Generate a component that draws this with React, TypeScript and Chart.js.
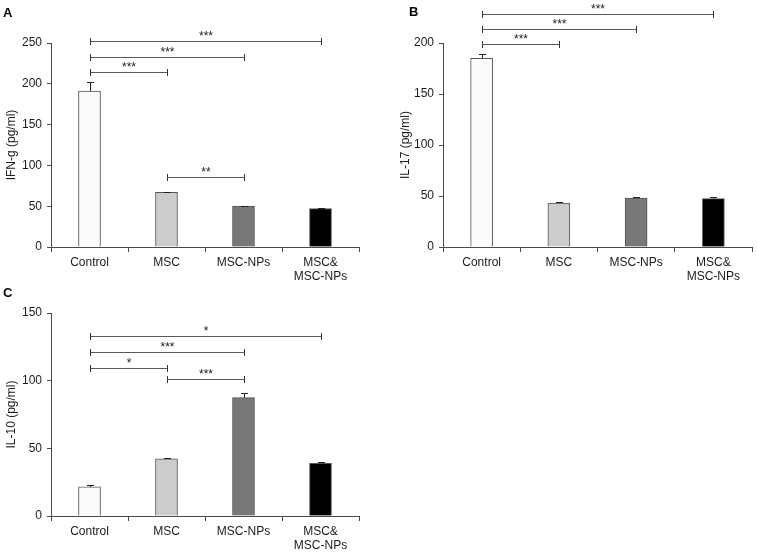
import React, { useEffect, useRef } from 'react';
import { Chart, registerables } from 'chart.js';

Chart.register(...registerables);

const categories: (string | string[])[] = ['Control', 'MSC', 'MSC-NPs', ['MSC&', 'MSC-NPs']];
const barColors = ['#fbfbfb', '#cccccc', '#787878', '#000000'];

const ifnValues = [191, 67, 50, 47];
const ifnErrors = [11, 1, 0.4, 0.8];
const il17Values = [185, 43, 48, 47.5];
const il17Errors = [4, 1.5, 1.5, 1.2];
const il10Values = [21.5, 42.3, 87.5, 39];
const il10Errors = [1.6, 0.5, 3.5, 0.6];

// [from index, to index, value level, label]
const ifnBrackets: [number, number, number, string][] = [
  [0, 3, 252, '***'],
  [0, 2, 233, '***'],
  [0, 1, 215, '***'],
  [1, 2, 86, '**'],
];
const il17Brackets: [number, number, number, string][] = [
  [0, 3, 228, '***'],
  [0, 2, 213.5, '***'],
  [0, 1, 199.5, '***'],
];
const il10Brackets: [number, number, number, string][] = [
  [0, 3, 133, '*'],
  [0, 2, 121, '***'],
  [0, 1, 109.4, '*'],
  [1, 2, 101, '***'],
];

const FONT = '"Liberation Sans", Arial, Helvetica, sans-serif';
const AXIS = '#4a4a4a';
const TEXT = '#1a1a1a';

type PanelProps = {
  letter: string;
  letterX: number;
  letterY: number;
  values: number[];
  errors: number[];
  brackets: [number, number, number, string][];
  yMax: number;
  title: string;
  left: number;
  top: number;
  width: number;
  height: number;
  padLeft: number;
  padTop: number;
  padRight: number;
  yWidth: number;
  xHeight: number;
};

function Panel(p: PanelProps) {
  const ref = useRef<HTMLCanvasElement | null>(null);
  useEffect(() => {
    if (!ref.current) return;
    const overlay = {
      id: 'overlay' + p.letter,
      afterDatasetsDraw(chart: any) {
        const ctx = chart.ctx;
        const meta = chart.getDatasetMeta(0);
        const ys = chart.scales.y;
        ctx.save();
        ctx.strokeStyle = '#222';
        ctx.lineWidth = 1;
        p.values.forEach((v, i) => {
          const bar = meta.data[i];
          const x = Math.round(bar.x) + 0.5;
          const yb = ys.getPixelForValue(v);
          const yt = Math.round(ys.getPixelForValue(v + p.errors[i])) + 0.5;
          ctx.beginPath();
          ctx.moveTo(x, yb);
          ctx.lineTo(x, yt);
          ctx.moveTo(x - 3.5, yt);
          ctx.lineTo(x + 3.5, yt);
          ctx.stroke();
        });
        ctx.restore();
      },
      afterDraw(chart: any) {
        const ctx = chart.ctx;
        const xs = chart.scales.x;
        const ys = chart.scales.y;
        ctx.save();
        p.brackets.forEach(([a, b, lvl, label]) => {
          const x1 = Math.round(xs.getPixelForValue(a)) + 0.5;
          const x2 = Math.round(xs.getPixelForValue(b)) + 0.5;
          const y = Math.round(ys.getPixelForValue(lvl)) + 0.5;
          ctx.strokeStyle = '#5a5a5a';
          ctx.lineWidth = 1;
          ctx.beginPath();
          ctx.moveTo(x1, y);
          ctx.lineTo(x2, y);
          ctx.stroke();
          ctx.strokeStyle = '#333';
          ctx.beginPath();
          ctx.moveTo(x1, y - 3.5);
          ctx.lineTo(x1, y + 3.5);
          ctx.moveTo(x2, y - 3.5);
          ctx.lineTo(x2, y + 3.5);
          ctx.stroke();
          ctx.fillStyle = TEXT;
          ctx.font = '12px ' + FONT;
          ctx.textAlign = 'center';
          ctx.textBaseline = 'alphabetic';
          ctx.fillText(label, (x1 + x2) / 2, y - 1.5);
        });
        ctx.fillStyle = '#000';
        ctx.font = 'bold 13px ' + FONT;
        ctx.textAlign = 'left';
        ctx.textBaseline = 'alphabetic';
        ctx.fillText(p.letter, p.letterX, p.letterY);
        ctx.restore();
      },
    };
    const chart = new Chart(ref.current, {
      type: 'bar',
      data: {
        labels: categories as any,
        datasets: [
          {
            data: p.values,
            backgroundColor: barColors,
            borderColor: '#555555',
            borderWidth: 1,
            barThickness: 22,
          },
        ],
      },
      options: {
        animation: false,
        responsive: false,
        maintainAspectRatio: false,
        devicePixelRatio: 1,
        layout: { padding: { left: p.padLeft, top: p.padTop, right: p.padRight, bottom: 0 } },
        plugins: { legend: { display: false }, tooltip: { enabled: false } },
        scales: {
          x: {
            grid: { display: true, drawOnChartArea: false, drawTicks: true, tickLength: 5, color: AXIS },
            border: { display: true, color: AXIS, width: 1 },
            ticks: { color: TEXT, font: { family: FONT, size: 12 }, padding: 3, maxRotation: 0, autoSkip: false },
            afterFit: (s: any) => {
              s.height = p.xHeight;
            },
          },
          y: {
            min: 0,
            max: p.yMax,
            ticks: { stepSize: 50, color: TEXT, font: { family: FONT, size: 12 }, padding: 5 },
            grid: { display: true, drawOnChartArea: false, drawTicks: true, tickLength: 4, color: AXIS },
            border: { display: true, color: AXIS, width: 1 },
            title: { display: true, text: p.title, color: TEXT, font: { family: FONT, size: 12 }, padding: { top: 4, bottom: 4 } },
            afterFit: (s: any) => {
              s.width = p.yWidth;
            },
          },
        },
      } as any,
      plugins: [overlay],
    });
    return () => chart.destroy();
  }, []);
  return (
    <canvas
      ref={ref}
      width={p.width}
      height={p.height}
      style={{ position: 'absolute', left: p.left, top: p.top, width: p.width, height: p.height }}
    />
  );
}

export default function App() {
  return (
    <div style={{ position: 'absolute', left: 0, top: 0, width: 757, height: 552, background: '#fff', overflow: 'hidden' }}>
      <Panel
        letter="A" letterX={3} letterY={17}
        values={ifnValues} errors={ifnErrors} brackets={ifnBrackets} yMax={250} title="IFN-g (pg/ml)"
        left={0} top={0} width={378} height={290}
        padLeft={0} padTop={43} padRight={19} yWidth={51} xHeight={43}
      />
      <Panel
        letter="B" letterX={31} letterY={16}
        values={il17Values} errors={il17Errors} brackets={il17Brackets} yMax={200} title="IL-17 (pg/ml)"
        left={378} top={0} width={379} height={290}
        padLeft={16} padTop={43} padRight={5} yWidth={49} xHeight={43}
      />
      <Panel
        letter="C" letterX={3} letterY={21}
        values={il10Values} errors={il10Errors} brackets={il10Brackets} yMax={150} title="IL-10 (pg/ml)"
        left={0} top={276} width={378} height={276}
        padLeft={0} padTop={37} padRight={19} yWidth={51} xHeight={36}
      />
    </div>
  );
}
